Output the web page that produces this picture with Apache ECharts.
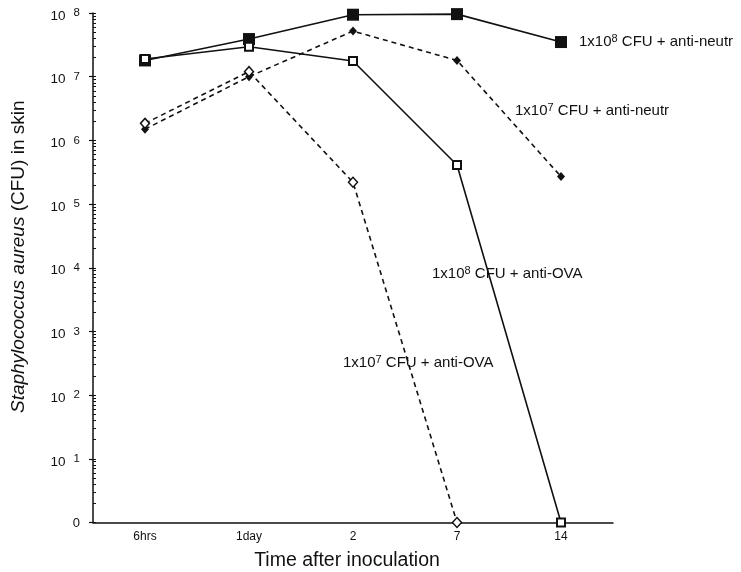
<!DOCTYPE html>
<html>
<head>
<meta charset="utf-8">
<script src="https://cdn.jsdelivr.net/npm/echarts@6/dist/echarts.min.js"></script>
<style>
html,body{margin:0;padding:0;background:#fff;}
#chart{width:741px;height:572px;}
</style>
</head>
<body>
<div id="chart"></div>
<script>
// ---- data ----
const categories = ['6hrs', '1day', '2', '7', '14'];
// CFU values (value 1 is the "0" baseline of the log axis)
const neutr1e8 = [1.8e7, 3.9e7, 9.4e7, 9.6e7, 3.5e7];   // 1x10^8 CFU + anti-neutr
const ova1e8   = [1.9e7, 2.95e7, 1.76e7, 4.1e5, 1];     // 1x10^8 CFU + anti-OVA
const neutr1e7 = [1.5e6, 1.0e7, 5.2e7, 1.8e7, 2.7e5];   // 1x10^7 CFU + anti-neutr
const ova1e7   = [1.85e6, 1.2e7, 2.2e5, 1, null];       // 1x10^7 CFU + anti-OVA
const yMajorTicks = [1, 10, 100, 1e3, 1e4, 1e5, 1e6, 1e7, 1e8];
const yMinorTicks = [];
for (let e = 0; e < 8; e++) for (let m = 1; m <= 9; m++) yMinorTicks.push(m * Math.pow(10, e));
yMinorTicks.push(1e8);

const FONT = '"Liberation Sans", Arial, Helvetica, sans-serif';
const chart = echarts.init(document.getElementById('chart'));

const supRich = {
  b: { fontSize: 13.5, fontFamily: FONT, color: '#111', padding: [0, 8, 0, 0] },
  s: { fontSize: 11.5, fontFamily: FONT, color: '#111', padding: [0, 0, 6, 0] }
};
const labelRich = {
  t: { fontSize: 15, fontFamily: FONT, color: '#111' },
  s: { fontSize: 11, fontFamily: FONT, color: '#111', padding: [0, 0, 6, 0] }
};

function seriesText(txt, exp, left, top) {
  return {
    type: 'text', left: left, top: top,
    style: {
      text: '{t|1x10}{s|' + exp + '}{t|' + txt + '}',
      rich: labelRich, fill: '#111', font: '15px ' + FONT
    }
  };
}

chart.setOption({
  animation: false,
  backgroundColor: '#fff',
  grid: { left: 93, top: 13, right: 128, bottom: 49.5, containLabel: false, outerBoundsMode: 'none' },
  xAxis: [{
    type: 'category', data: categories, boundaryGap: true,
    axisLine: { lineStyle: { color: '#111', width: 1.5 } },
    axisTick: { alignWithLabel: true, length: 4, lineStyle: { color: '#111', width: 1.2 } },
    axisLabel: { fontFamily: FONT, fontSize: 12, color: '#111', margin: 8 },
    name: 'Time after inoculation', nameLocation: 'middle', nameGap: 28,
    nameTextStyle: { fontFamily: FONT, fontSize: 19.5, color: '#111', padding: [0, 12, 0, 0] },
    splitLine: { show: false }
  }, {
    type: 'category', data: categories, boundaryGap: true, position: 'bottom',
    axisLine: { show: false },
    axisTick: { inside: true, length: 3, lineStyle: { color: '#111', width: 1.2 } },
    axisLabel: { show: false }, splitLine: { show: false }
  }],
  yAxis: [{
    type: 'log', logBase: 10, min: 1, max: 1e8,
    axisLine: { show: true, lineStyle: { color: '#111', width: 1.5 } },
    axisTick: { show: true, length: 4, customValues: yMajorTicks, lineStyle: { color: '#111', width: 1.2 } },
    axisLabel: {
      customValues: yMajorTicks, margin: 13, color: '#111', fontFamily: FONT, fontSize: 12,
      padding: [6, 0, 0, 0],
      formatter: function (v) {
        if (v <= 1) return '{b0|0}';
        const e = Math.round(Math.log10(v));
        return '{b|10}{s|' + e + '}';
      },
      rich: Object.assign({ b0: { fontSize: 13, fontFamily: FONT, color: '#111', padding: [0, 0, 4, 0] } }, supRich)
    },
    splitLine: { show: false },
    name: '{i|Staphylococcus aureus} (CFU) in skin',
    nameLocation: 'middle', nameGap: 65, nameRotate: 90,
    nameTextStyle: {
      fontFamily: FONT, fontSize: 19, color: '#111', padding: [0, 0, 0, 22],
      rich: { i: { fontStyle: 'italic', fontFamily: FONT, fontSize: 19, color: '#111' } }
    }
  }, {
    type: 'log', logBase: 10, min: 1, max: 1e8, position: 'left',
    axisLine: { show: false },
    axisTick: { show: true, inside: true, length: 3, customValues: yMinorTicks, lineStyle: { color: '#111', width: 1 } },
    axisLabel: { show: false }, splitLine: { show: false }
  }],
  graphic: [
    seriesText(' CFU + anti-neutr', '8', 579, 33),
    seriesText(' CFU + anti-neutr', '7', 515, 102),
    seriesText(' CFU + anti-OVA', '8', 432, 265),
    seriesText(' CFU + anti-OVA', '7', 343, 354)
  ],
  series: [{
    name: '1x10^8 CFU + anti-OVA', type: 'line', data: ova1e8,
    symbol: 'rect', symbolSize: 8,
    itemStyle: { color: '#fff', borderColor: '#111', borderWidth: 2 },
    lineStyle: { color: '#111', width: 1.6, type: 'solid' }, z: 3
  }, {
    name: '1x10^8 CFU + anti-neutr', type: 'line', data: neutr1e8,
    symbol: 'rect', symbolSize: 12,
    itemStyle: { color: '#111', borderColor: '#111', borderWidth: 0 },
    lineStyle: { color: '#111', width: 1.6, type: 'solid' }, z: 2
  }, {
    name: '1x10^7 CFU + anti-neutr', type: 'line', data: neutr1e7,
    symbol: 'diamond', symbolSize: [8, 9],
    itemStyle: { color: '#111', borderColor: '#111', borderWidth: 0 },
    lineStyle: { color: '#111', width: 1.6, type: [5, 4] }, z: 2
  }, {
    name: '1x10^7 CFU + anti-OVA', type: 'line', data: ova1e7,
    symbol: 'diamond', symbolSize: [9, 10],
    itemStyle: { color: '#fff', borderColor: '#111', borderWidth: 1.5 },
    lineStyle: { color: '#111', width: 1.6, type: [5, 4] }, z: 3
  }]
});
</script>
</body>
</html>
